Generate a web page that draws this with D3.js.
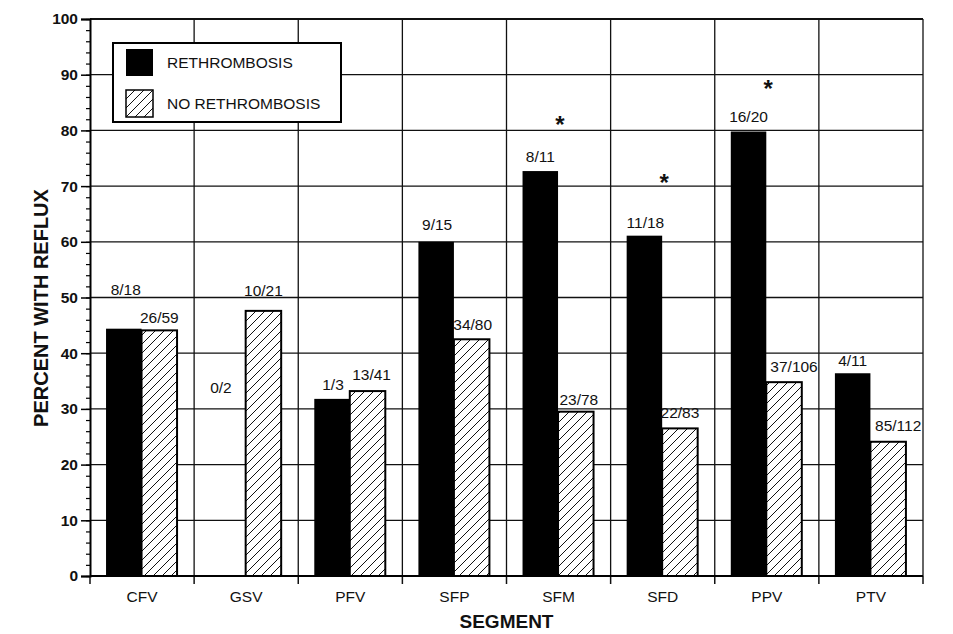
<!DOCTYPE html>
<html>
<head>
<meta charset="utf-8">
<script src="https://cdn.jsdelivr.net/npm/d3@7/dist/d3.min.js"></script>
<style>
  html, body { margin: 0; padding: 0; background: #fff; }
  svg { display: block; }
  text { font-family: "Liberation Sans", Arial, Helvetica, sans-serif; fill: #111; }
</style>
</head>
<body>
<svg id="chart" width="953" height="634"></svg>
<script>
// ---------------- data ----------------
const categories = ["CFV", "GSV", "PFV", "SFP", "SFM", "SFD", "PPV", "PTV"];
const seriesNames = ["RETHROMBOSIS", "NO RETHROMBOSIS"];
const rethrombosis   = [44.4, 0, 31.8, 60.0, 72.7, 61.1, 79.8, 36.4];
const noRethrombosis = [44.1, 47.6, 33.2, 42.5, 29.5, 26.5, 34.8, 24.1];
const labelsR = ["8/18", "0/2", "1/3", "9/15", "8/11", "11/18", "16/20", "4/11"];
const labelsN = ["26/59", "10/21", "13/41", "34/80", "23/78", "22/83", "37/106", "85/112"];
// label baseline levels (in percent units)
const labelLevelR = [50.4, 32.9, 33.4, 62.1, 74.3, 62.5, 81.5, 37.7];
const labelLevelN = [45.4, 50.3, 35.2, 44.2, 30.7, 28.4, 36.6, 26.0];
const labelShiftN = [0, 0, 4, 1, 3, 0, 10, 10];
const labelShiftR = [2, -7, 1, 1, 0, 1, 0, 0];
const starCategories = ["SFM", "SFD", "PPV"];
const starLevels = [81.9, 71.5, 88.3];
const yTicks = [0, 10, 20, 30, 40, 50, 60, 70, 80, 90, 100];
const yTitle = "PERCENT WITH REFLUX";
const xTitle = "SEGMENT";

// ---------------- layout ----------------
const svg = d3.select("#chart");
const pLeft = 90, pRight = 923, pTop = 19, pBottom = 576;

const y = d3.scaleLinear().domain([0, 100]).range([pBottom, pTop]);
const x0 = d3.scaleBand().domain(categories).range([pLeft, pRight]).padding(0);
const bw = x0.bandwidth();
const x1 = d3.scaleBand().domain(seriesNames).range([bw * 0.154, bw * 0.836]).padding(0);

// hatch pattern
const defs = svg.append("defs");
const pat = defs.append("pattern")
  .attr("id", "hatch").attr("patternUnits", "userSpaceOnUse")
  .attr("width", 9).attr("height", 9);
pat.append("rect").attr("width", 9).attr("height", 9).attr("fill", "#fff");
pat.append("path")
  .attr("d", "M-1,1 l2,-2 M0,9 l9,-9 M8,10 l2,-2")
  .attr("stroke", "#111").attr("stroke-width", 1);

// grid
const grid = svg.append("g");
grid.selectAll("line.h").data(yTicks.filter(d => d > 0)).join("line")
  .attr("x1", pLeft).attr("x2", pRight)
  .attr("y1", d => y(d)).attr("y2", d => y(d))
  .attr("stroke", "#111").attr("stroke-width", d => d === 100 ? 2 : 1.3);
const boundaries = categories.map(c => x0(c)).concat([pRight]);
grid.selectAll("line.v").data(boundaries.slice(1)).join("line")
  .attr("x1", d => d).attr("x2", d => d)
  .attr("y1", y(0)).attr("y2", y(100))
  .attr("stroke", "#111").attr("stroke-width", 1.3);

// x ticks below axis
grid.selectAll("line.xt").data(boundaries).join("line")
  .attr("x1", d => d).attr("x2", d => d)
  .attr("y1", y(0)).attr("y2", y(0) + 8)
  .attr("stroke", "#111").attr("stroke-width", 1.5);

// bars
const rows = categories.map((c, i) => ({ c, i, r: rethrombosis[i], n: noRethrombosis[i] }));
const gBars = svg.append("g");
gBars.selectAll("rect.r").data(rows.filter(d => d.r > 0)).join("rect")
  .attr("x", d => x0(d.c) + x1(seriesNames[0]))
  .attr("y", d => y(d.r))
  .attr("width", x1.bandwidth())
  .attr("height", d => y(0) - y(d.r))
  .attr("fill", "#000");
gBars.selectAll("rect.n").data(rows).join("rect")
  .attr("x", d => x0(d.c) + x1(seriesNames[1]))
  .attr("y", d => y(d.n))
  .attr("width", x1.bandwidth())
  .attr("height", d => y(0) - y(d.n))
  .attr("fill", "url(#hatch)")
  .attr("stroke", "#000").attr("stroke-width", 2);

// x axis line
svg.append("line").attr("x1", pLeft).attr("x2", pRight)
  .attr("y1", y(0)).attr("y2", y(0)).attr("stroke", "#000").attr("stroke-width", 2);

// y axis
const yAxis = svg.append("g").attr("transform", `translate(${pLeft},0)`)
  .call(d3.axisLeft(y).tickValues(yTicks).tickSize(9).tickPadding(3));
yAxis.select(".domain").attr("stroke", "#000").attr("stroke-width", 2);
yAxis.selectAll(".tick line").attr("stroke", "#000").attr("stroke-width", 1.5);
yAxis.selectAll(".tick text")
  .attr("font-family", "Liberation Sans, Arial, sans-serif")
  .attr("font-size", 15.5).attr("font-weight", "bold").attr("fill", "#111");
const minor = svg.append("g").attr("transform", `translate(${pLeft},0)`)
  .call(d3.axisLeft(y).tickValues(d3.range(0, 101, 2)).tickSize(4).tickFormat(""));
minor.select(".domain").remove();
minor.selectAll(".tick line").attr("stroke", "#000").attr("stroke-width", 1.2);

// category labels
svg.append("g").selectAll("text").data(categories).join("text")
  .attr("x", d => x0(d) + bw / 2).attr("y", 602)
  .attr("text-anchor", "middle").attr("font-size", 15.5)
  .text(d => d);

// value labels
const gLab = svg.append("g").attr("font-size", 15.5);
gLab.selectAll("text.r").data(rows).join("text")
  .attr("x", d => x0(d.c) + x1(seriesNames[0]) + x1.bandwidth() / 2 + labelShiftR[d.i])
  .attr("y", d => y(labelLevelR[d.i]))
  .attr("text-anchor", "middle")
  .text(d => labelsR[d.i]);
gLab.selectAll("text.n").data(rows).join("text")
  .attr("x", d => x0(d.c) + x1(seriesNames[1]) + x1.bandwidth() / 2 + labelShiftN[d.i])
  .attr("y", d => y(labelLevelN[d.i]))
  .attr("text-anchor", "middle")
  .text(d => labelsN[d.i]);

// significance stars
svg.append("g").selectAll("text").data(starCategories).join("text")
  .attr("x", (d) => x0(d) + x1(seriesNames[1]) + 2)
  .attr("y", (d, i) => y(starLevels[i]) + 13)
  .attr("text-anchor", "middle")
  .attr("font-size", 24).attr("font-weight", "bold")
  .text("*");

// axis titles
svg.append("text")
  .attr("transform", `translate(48,308) rotate(-90)`)
  .attr("text-anchor", "middle").attr("font-size", 20).attr("font-weight", "bold")
  .text(yTitle);
svg.append("text")
  .attr("x", (pLeft + pRight) / 2).attr("y", 628)
  .attr("text-anchor", "middle").attr("font-size", 19).attr("font-weight", "bold")
  .text(xTitle);

// legend
const lg = svg.append("g");
lg.append("rect").attr("x", 113).attr("y", 43).attr("width", 228).attr("height", 79)
  .attr("fill", "#fff").attr("stroke", "#000").attr("stroke-width", 2);
const swatchFill = ["#000", "url(#hatch)"];
const lgItems = lg.selectAll("g.item").data(seriesNames).join("g")
  .attr("transform", (d, i) => `translate(126,${49 + i * 41})`);
lgItems.append("rect").attr("width", 27).attr("height", 27)
  .attr("fill", (d, i) => swatchFill[i])
  .attr("stroke", "#000").attr("stroke-width", (d, i) => i === 1 ? 1.5 : 0);
lgItems.append("text").attr("x", 41).attr("y", 19)
  .attr("font-size", 15.5).text(d => d);
</script>
</body>
</html>
